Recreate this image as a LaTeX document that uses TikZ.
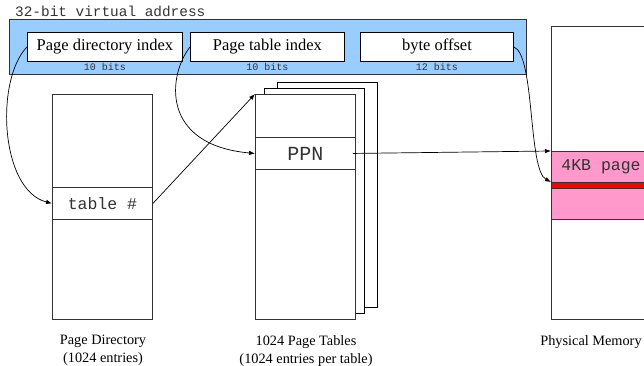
\documentclass[tikz,border=0pt]{standalone}
\usepackage{fontspec}
\setmainfont{Liberation Serif}
\setmonofont{Liberation Mono}
\usetikzlibrary{positioning,arrows.meta}
\definecolor{vablue}{HTML}{99CCFF}
\definecolor{pagepink}{HTML}{FF99CC}
\definecolor{linegray}{HTML}{333333}

\begin{document}
\begin{tikzpicture}[x=1pt,y=-1pt,
        base/.style={rectangle,draw=linegray,line width=0.9pt,inner sep=0pt,anchor=north west},
        field/.style={base,draw=black,fill=white,minimum height=29pt,font=\fontsize{16.5}{18}\selectfont},
        column/.style={base,fill=white,minimum width=100pt,minimum height=225pt},
        entry/.style={base,minimum width=100pt,minimum height=32pt,text=linegray},
        mono/.style={inner sep=0pt,text=linegray,font=\ttfamily\fontsize{16.5}{18}\selectfont},
        bits/.style={inner sep=0pt,text=linegray,font=\ttfamily\fontsize{10}{11}\selectfont},
        caption/.style={inner sep=0pt,align=center,anchor=north,font=\fontsize{14.3}{18}\selectfont},
        link/.style={draw=black,line width=0.7pt,-{Latex[length=6pt,width=4.5pt]}}]
    \useasboundingbox (0,0) rectangle (644,366);
    \clip (0,0) rectangle (644,366);
    % Virtual address
    \node[base,fill=vablue,minimum width=517pt,minimum height=55pt] (vaddr) at (9,19) {};
    \node[mono,anchor=base west,font=\ttfamily\fontsize{14.4}{16}\selectfont] (vatitle) at (15,17) {32-bit virtual address};
    \node[field,minimum width=155pt] (pdi) at (27,32) {Page directory index};
    \node[field,minimum width=154pt] (pti) at (190,32) {Page table index};
    \node[field,minimum width=153pt] (off) at (360,32) {byte offset};
    \node[bits,below=1.5pt of pdi] (pdibits) {10 bits};
    \node[bits,below=1.5pt of pti] (ptibits) {10 bits};
    \node[bits,below=1.5pt of off] (offbits) {12 bits};
    % Page directory
    \node[column] (pdir) at (52,94) {};
    \node[entry,font=\ttfamily\fontsize{16.5}{18}\selectfont] (tabrow) at (52,187) {table \#};
    % Page tables, stacked
    \node[column,draw=black] (pt3) at (277,82) {};
    \node[column,draw=black] (pt2) at (264,88) {};
    \node[column] (pt1) at (255,94) {};
    \node[entry,font=\ttfamily\fontsize{20}{22}\selectfont] (ppn) at (255,137) {PPN};
    % Physical memory
    \node[base,minimum width=100pt,minimum height=293pt] (phys) at (551,26) {};
    \node[base,fill=pagepink,minimum width=100pt,minimum height=68pt] (page) at (551,151) {};
    \node[base,fill=red,minimum width=100pt,minimum height=6pt] (offrow) at (551,182) {};
    \node[mono] (pagelbl) at (601,167) {4KB page};
    % Captions
    \node[caption] (pdircap) at (103,335) {Page Directory\\(1024 entries)};
    \node[caption] (ptcap) at (306,335) {1024 Page Tables\\(1024 entries per table)};
    \node[caption] (physcap) at (591,335) {Physical Memory};
    % Links
    \draw[link] (pdi.west) .. controls (-5,80) and (0,190) .. (tabrow.west);
    \draw[link] (pti.west) .. controls (168,75) and (160,145) .. (ppn.west);
    \draw[link] (tabrow.east) -- (pt1.north west);
    \draw[link] ([xshift=-3pt]ppn.east) -- (page.north west);
    \draw[link] (off.east) .. controls (535,55) and (528,170) .. (offrow.north west);
\end{tikzpicture}
\end{document}
